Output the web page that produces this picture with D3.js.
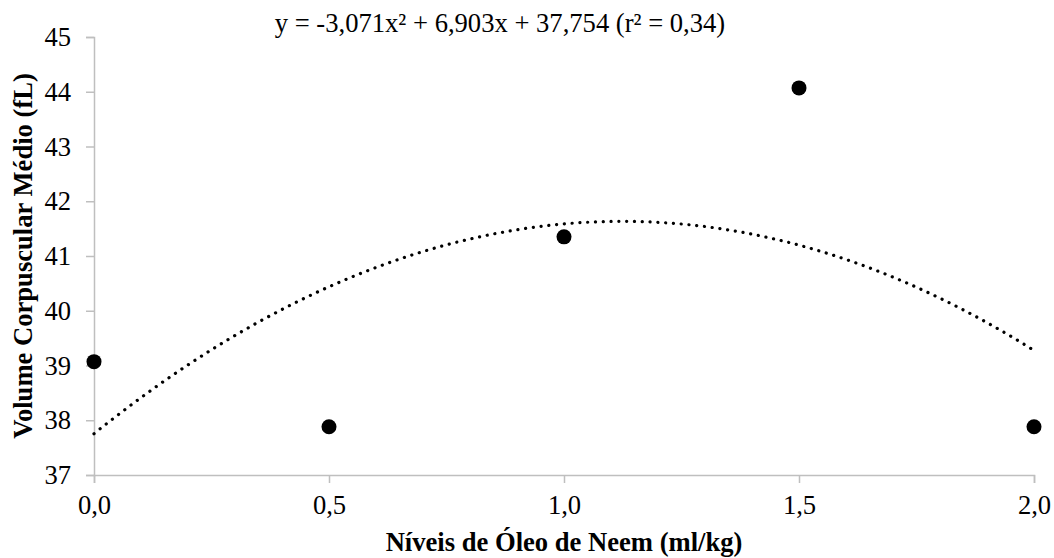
<!DOCTYPE html>
<html>
<head>
<meta charset="utf-8">
<script src="https://cdn.jsdelivr.net/npm/d3@7"></script>
<style>
  body { margin: 0; background: #fff; }
  .axis path, .axis line { stroke: #bfbfbf; stroke-width: 1.5; }
</style>
</head>
<body>
<div id="chart"></div>
<script>
// data
const neemLevels = [0.0, 0.5, 1.0, 1.5, 2.0];
const vcmValues = [39.07, 37.88, 41.35, 44.07, 37.88];
const xTicks = [0.0, 0.5, 1.0, 1.5, 2.0];
const yTicks = [37, 38, 39, 40, 41, 42, 43, 44, 45];
// trendline coefficients as printed on the chart (a x^2 + b x + c)
const trendCoef = [-3.071, 6.903, 37.754];
const equationLabel = "y = -3,071x\u00B2 + 6,903x + 37,754 (r\u00B2 = 0,34)";
const xTitle = "Níveis de Óleo de Neem (ml/kg)";
const yTitle = "Volume Corpuscular Médio (fL)";

const FONT = "'Liberation Serif', 'Times New Roman', Times, serif";
const FS = "26.6px";
const W = 1054, H = 558;
const MARGIN = { LEFT: 94, RIGHT: 20, TOP: 37, BOTTOM: 83 };
const WIDTH = W - MARGIN.LEFT - MARGIN.RIGHT;
const HEIGHT = H - MARGIN.TOP - MARGIN.BOTTOM;

const svg = d3.select("#chart").append("svg")
  .attr("width", W)
  .attr("height", H)
  .attr("font-family", FONT);

const g = svg.append("g")
  .attr("transform", `translate(${MARGIN.LEFT}, ${MARGIN.TOP})`);

const x = d3.scaleLinear().domain([0, 2]).range([0, WIDTH]);
const y = d3.scaleLinear().domain([37, 45]).range([HEIGHT, 0]);

const fmt = d => d.toFixed(1).replace(".", ",");

const xAxis = g.append("g")
  .attr("class", "x axis")
  .attr("transform", `translate(0, ${HEIGHT})`)
  .call(d3.axisBottom(x).tickValues(xTicks).tickFormat(fmt).tickSize(8).tickSizeOuter(8).tickPadding(12));
xAxis.attr("font-family", FONT);
xAxis.selectAll("text").style("font-family", FONT).style("font-size", FS).attr("fill", "#000");

const yAxis = g.append("g")
  .attr("class", "y axis")
  .call(d3.axisLeft(y).tickValues(yTicks).tickSize(8).tickSizeOuter(8).tickPadding(15));
yAxis.attr("font-family", FONT);
yAxis.selectAll("text").style("font-family", FONT).style("font-size", FS).attr("fill", "#000");

// trendline
const trend = d3.range(0, 2.0001, 0.02).map(v => [v, trendCoef[0] * v * v + trendCoef[1] * v + trendCoef[2]]);
g.append("path")
  .datum(trend)
  .attr("fill", "none")
  .attr("stroke", "#000")
  .attr("stroke-width", 3.2)
  .attr("stroke-linecap", "round")
  .attr("stroke-dasharray", "0.1 7.7")
  .attr("d", d3.line().x(d => x(d[0])).y(d => y(d[1])));

// points
g.selectAll("circle.pt")
  .data(neemLevels)
  .enter()
  .append("circle")
  .attr("class", "pt")
  .attr("cx", d => x(d))
  .attr("cy", (d, i) => y(vcmValues[i]))
  .attr("r", 7.5)
  .attr("fill", "#000");

// equation
svg.append("text")
  .attr("x", 500)
  .attr("y", 32)
  .attr("text-anchor", "middle")
  .style("font-family", FONT)
  .style("font-size", FS)
  .text(equationLabel);

// axis titles
svg.append("text")
  .attr("x", MARGIN.LEFT + WIDTH / 2)
  .attr("y", 551)
  .attr("text-anchor", "middle")
  .style("font-family", FONT)
  .style("font-size", FS)
  .style("font-weight", "bold")
  .text(xTitle);

svg.append("text")
  .attr("transform", `translate(32, ${MARGIN.TOP + HEIGHT / 2}) rotate(-90)`)
  .attr("text-anchor", "middle")
  .style("font-family", FONT)
  .style("font-size", FS)
  .style("font-weight", "bold")
  .text(yTitle);
</script>
</body>
</html>
